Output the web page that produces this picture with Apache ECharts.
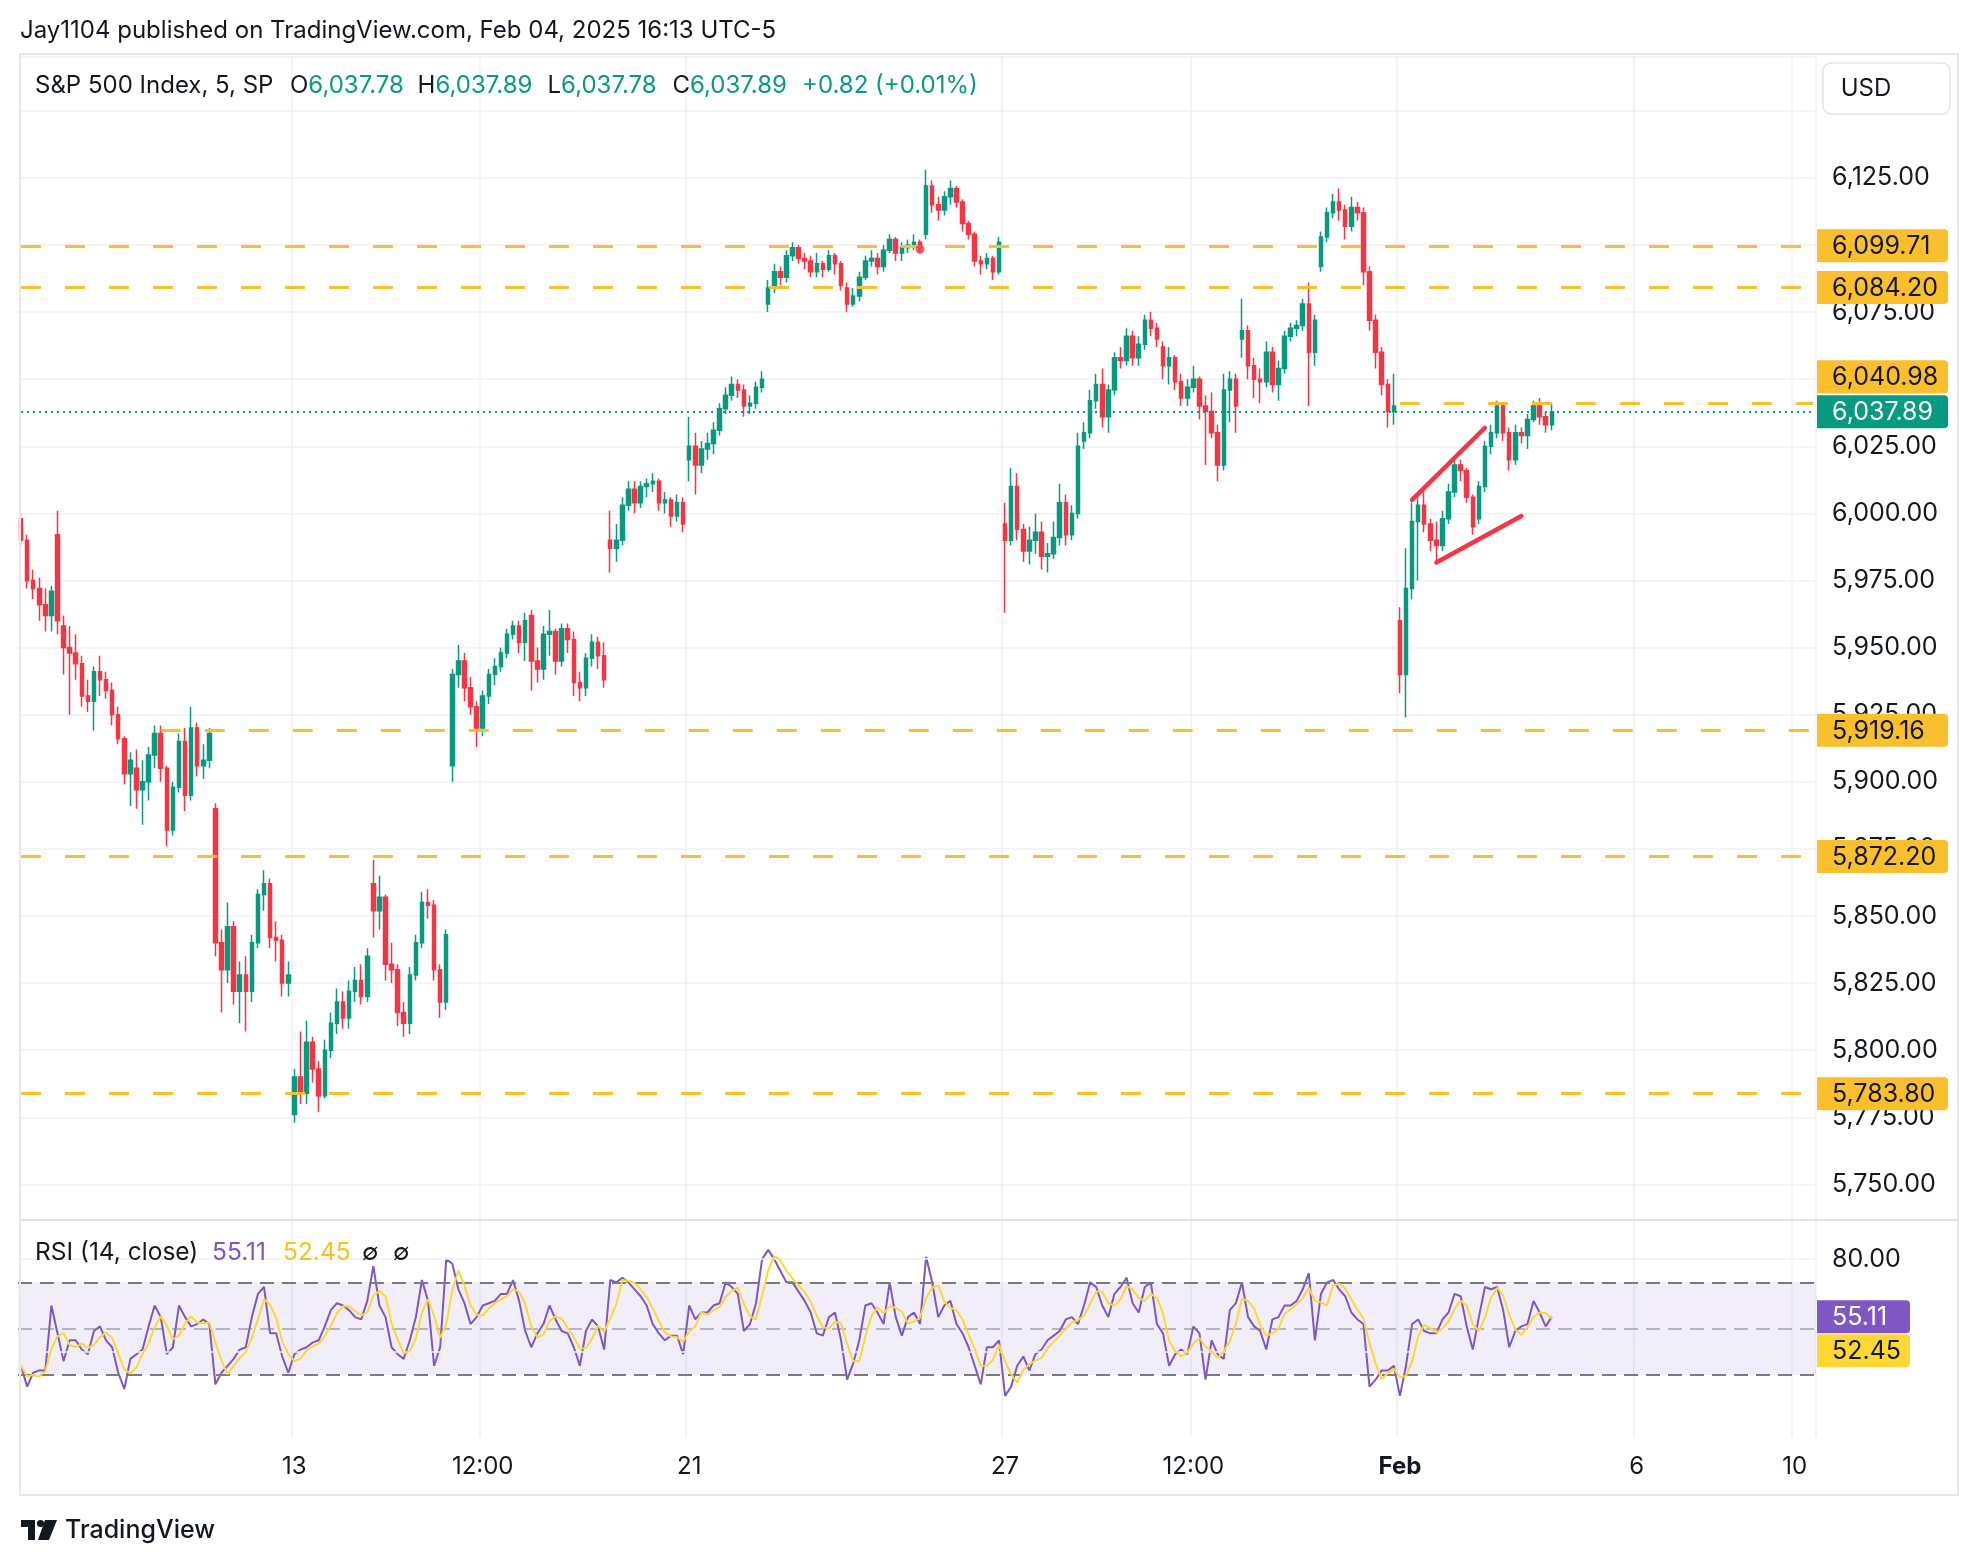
<!DOCTYPE html>
<html><head><meta charset="utf-8">
<script src="https://cdn.jsdelivr.net/npm/echarts/dist/echarts.min.js"></script>
<style>html,body{margin:0;padding:0;background:#fff}#c{width:1978px;height:1564px}</style>
</head><body><div id="c"></div>
<script>
// ---------- DATA (30-minute aggregation) [open, close, low, high] ----------
const jan06 = [[5998,5990,5988,6000],[5990,5975,5972,5992],[5975,5972,5968,5979],[5972,5966,5960,5976],[5966,5962,5956,5972],[5962,5971,5956,5973]];
const jan07 = [[5992,5960,5955,6001],[5958,5950,5940,5962],[5950,5948,5925,5958],[5948,5944,5938,5955],[5944,5932,5928,5947],[5932,5930,5926,5938],[5930,5941,5919,5943],[5941,5938,5932,5947],[5938,5934,5931,5941],[5934,5925,5921,5937],[5925,5916,5914,5928],[5916,5903,5899,5917],[5903,5908,5891,5911]];
const jan08 = [[5905,5897,5890,5912],[5897,5900,5884,5908],[5900,5910,5893,5913],[5910,5918,5905,5921],[5918,5905,5900,5921],[5905,5882,5876,5906],[5882,5898,5880,5900],[5898,5915,5896,5918],[5915,5895,5889,5920],[5895,5920,5893,5928],[5920,5906,5902,5922],[5906,5908,5901,5914],[5908,5918,5905,5920]];
const jan10 = [[5890,5840,5835,5892],[5840,5830,5814,5845],[5830,5846,5825,5855],[5846,5822,5817,5848],[5822,5828,5810,5833],[5828,5822,5807,5835],[5822,5840,5818,5843],[5840,5858,5838,5860],[5858,5862,5852,5867],[5862,5842,5838,5864],[5842,5841,5833,5848],[5841,5825,5820,5843],[5825,5828,5820,5833]];
const jan13 = [[5776,5790,5773,5793],[5790,5784,5780,5807],[5784,5803,5780,5811],[5803,5793,5788,5805],[5793,5783,5777,5796],[5783,5800,5782,5804],[5800,5810,5797,5814],[5810,5818,5806,5823],[5818,5812,5808,5822],[5812,5822,5808,5826],[5822,5826,5818,5831],[5826,5820,5817,5832],[5820,5835,5818,5838]];
const jan14 = [[5862,5852,5842,5871],[5852,5857,5845,5865],[5857,5832,5826,5858],[5832,5830,5825,5840],[5830,5814,5809,5832],[5814,5810,5805,5818],[5810,5828,5806,5831],[5828,5840,5826,5843],[5840,5855,5838,5859],[5855,5854,5849,5860],[5854,5830,5826,5856],[5830,5818,5812,5832],[5818,5843,5815,5845]];
const jan15 = [[5906,5940,5900,5942],[5940,5945,5935,5951],[5945,5935,5930,5948],[5935,5928,5925,5939],[5928,5920,5913,5930],[5920,5932,5917,5934],[5932,5940,5929,5942],[5940,5943,5936,5946],[5943,5948,5941,5950],[5948,5955,5946,5957],[5955,5958,5953,5960],[5958,5952,5948,5960],[5952,5960,5945,5963]];
const jan16 = [[5962,5945,5934,5964],[5945,5942,5937,5950],[5942,5955,5938,5958],[5955,5956,5947,5964],[5956,5945,5940,5957],[5945,5957,5943,5959],[5957,5953,5948,5959],[5953,5937,5932,5956],[5937,5935,5930,5941],[5935,5946,5932,5948],[5946,5952,5943,5955],[5952,5947,5942,5954],[5947,5938,5935,5952]];
const jan17 = [[5990,5987,5978,6001],[5987,5990,5982,5996],[5990,6003,5988,6006],[6003,6009,6001,6012],[6009,6004,6000,6012],[6004,6010,6002,6012],[6010,6011,6006,6013],[6011,6012,6008,6015],[6012,6004,6001,6013],[6004,6005,6000,6008],[6005,5999,5995,6006],[5999,6004,5997,6007],[6004,5996,5993,6006]];
const jan21 = [[6020,6025,6012,6036],[6025,6018,6007,6030],[6018,6024,6015,6027],[6024,6026,6020,6030],[6026,6031,6022,6034],[6031,6039,6029,6041],[6039,6044,6037,6047],[6044,6048,6042,6051],[6048,6046,6043,6050],[6046,6040,6036,6048],[6040,6041,6037,6044],[6041,6047,6039,6049],[6047,6050,6045,6053]];
const jan22 = [[6078,6084,6075,6087],[6084,6090,6082,6093],[6090,6088,6085,6092],[6088,6096,6086,6098],[6096,6099,6094,6101],[6099,6095,6093,6100],[6095,6094,6091,6097],[6094,6090,6088,6096],[6090,6093,6088,6097],[6093,6091,6088,6094],[6091,6096,6090,6098],[6096,6093,6089,6097],[6093,6085,6083,6094]];
const jan23 = [[6084,6078,6075,6086],[6078,6081,6077,6084],[6081,6088,6079,6090],[6088,6094,6087,6096],[6094,6095,6092,6098],[6095,6092,6089,6097],[6092,6098,6090,6100],[6098,6102,6097,6104],[6102,6097,6094,6103],[6097,6099,6094,6101],[6099,6100,6097,6102],[6100,6101,6098,6104],[6101,6099,6097,6102]];
const jan24 = [[6104,6122,6102,6128],[6122,6115,6112,6124],[6115,6113,6109,6118],[6113,6118,6111,6120],[6118,6121,6115,6124],[6121,6116,6114,6122],[6116,6108,6105,6117],[6108,6104,6102,6109],[6104,6094,6092,6105],[6094,6093,6089,6096],[6093,6095,6091,6097],[6095,6090,6087,6096],[6090,6101,6089,6103]];
const jan27 = [[5996,5990,5963,6004],[5990,6010,5988,6017],[6010,5994,5990,6015],[5994,5986,5982,5996],[5986,5990,5981,5995],[5990,5993,5985,6000],[5993,5984,5979,5997],[5984,5985,5978,5989],[5985,5991,5983,5997],[5991,6004,5988,6011],[6004,5992,5988,6007],[5992,6000,5990,6003],[6000,6025,5998,6030]];
const jan28 = [[6027,6030,6024,6034],[6030,6042,6028,6046],[6042,6048,6039,6052],[6048,6036,6032,6054],[6036,6046,6030,6048],[6046,6058,6044,6060],[6058,6057,6054,6062],[6057,6066,6055,6069],[6066,6058,6055,6068],[6058,6063,6055,6066],[6063,6072,6061,6074],[6072,6069,6066,6075],[6069,6065,6062,6071]];
const jan29 = [[6062,6055,6050,6064],[6055,6058,6048,6062],[6058,6049,6046,6059],[6049,6043,6040,6052],[6043,6047,6040,6050],[6047,6050,6045,6055],[6050,6040,6035,6051],[6040,6038,6018,6044],[6038,6030,6028,6045],[6030,6018,6012,6033],[6018,6046,6016,6052],[6046,6050,6034,6053],[6050,6040,6030,6052]];
const jan30 = [[6065,6068,6058,6080],[6068,6055,6050,6070],[6055,6050,6043,6058],[6050,6049,6041,6054],[6049,6060,6047,6064],[6060,6048,6045,6062],[6048,6054,6042,6057],[6054,6066,6052,6068],[6066,6069,6064,6071],[6069,6070,6066,6072],[6070,6078,6068,6080],[6078,6060,6040,6086],[6060,6072,6055,6074]];
const jan31 = [[6092,6103,6090,6105],[6103,6112,6101,6114],[6112,6116,6110,6119],[6116,6113,6109,6121],[6113,6107,6102,6115],[6107,6114,6105,6118],[6114,6112,6109,6116],[6112,6090,6085,6114],[6090,6072,6068,6092],[6072,6060,6054,6074],[6060,6048,6044,6062],[6048,6038,6032,6050],[6038,6040,6033,6052]];
const feb03 = [[5960,5940,5933,5965],[5940,5972,5924,5987],[5972,5997,5968,6004],[5997,6003,5975,6007],[6003,5996,5993,6009],[5996,5990,5986,5998],[5990,5988,5982,5997],[5988,5998,5986,6001],[5998,6008,5996,6011],[6008,6018,6006,6021],[6018,6016,6012,6020],[6016,6006,6004,6017],[6006,5995,5992,6007]];
const feb04 = [[5998,6010,5996,6012],[6010,6025,6008,6027],[6025,6030,6022,6033],[6030,6040,6028,6042],[6040,6030,6027,6041],[6030,6020,6016,6032],[6020,6030,6018,6033],[6030,6029,6026,6032],[6029,6035,6024,6037],[6035,6040,6034,6042],[6040,6036,6033,6043],[6036,6033,6030,6038],[6033,6037.89,6031,6041]];

const tradingDays = ['2025-01-06','2025-01-07','2025-01-08','2025-01-10','2025-01-13','2025-01-14','2025-01-15','2025-01-16','2025-01-17','2025-01-21','2025-01-22','2025-01-23','2025-01-24','2025-01-27','2025-01-28','2025-01-29','2025-01-30','2025-01-31','2025-02-03','2025-02-04'];
const futureDays = ['2025-02-05','2025-02-06','2025-02-07','2025-02-10'];

// RSI(14) values read per 30-min slot
const rsiValues = [34,25,31,32,32,60,48,36,45,45, 41,39,49,51,45,42,31,24,37,39, 41,51,60,55,39,42,60,55,51,52,
 54,52,26,31,34,37,41,42,55,65, 68,48,48,38,31,39,41,42,44,45, 51,58,61,60,58,55,54,62,77,60,
 55,42,39,37,45,55,71,62,34,42, 80,78,67,61,52,55,60,61,62,65, 65,71,62,49,42,48,52,60,54,49,
 48,42,34,49,54,51,41,71,70,72, 70,67,64,60,52,48,45,47,47,39, 60,54,57,57,60,61,70,68,65,49,
 52,61,80,84,80,75,70,70,66,62, 57,48,47,55,57,45,28,35,45,60, 61,57,52,70,55,47,55,57,52,81,
 70,55,60,62,52,48,42,34,26,42, 42,45,21,25,34,38,32,39,41,45, 47,49,54,55,52,60,70,68,60,55,
 65,68,72,61,57,68,70,52,48,34, 39,41,39,51,48,28,45,39,37,58, 61,70,55,51,49,41,54,55,60,60,
 62,67,74,45,65,70,71,67,64,57, 54,52,25,28,32,32,34,21,34,52, 54,49,48,48,54,57,65,64,51,41,
 55,68,67,68,58,42,49,51,52,62, 57,51,55.11];
const rsiLast = '55.11';
const rsiMaLast = '52.45';

// horizontal levels drawn on the chart
const levelValues = [6099.71, 6084.20, 6040.98, 5919.16, 5872.20, 5783.80];
const levelStartIdx = [0, 0, 227, 23, 0, 0];
const lastPrice = 6037.89;
// wedge trend lines [barIndex, price]
const wedgeUpper = [[229.05, 6005.0], [241.3, 6031.9]];
const wedgeLower = [[233.0, 5981.7], [246.6, 5999.0]];
const redDot = [[148.3, 6098.4]];

const xTickLabels = [['2025-01-13 09:30','13'],['2025-01-15 12:00','12:00'],['2025-01-21 09:30','21'],['2025-01-27 09:30','27'],['2025-01-29 12:00','12:00'],['2025-02-03 09:30','Feb'],['2025-02-06 09:30','6'],['2025-02-10 09:30','10']];
const priceTicks = {min: 5750, max: 6170, step: 25};
const legendOHLC = [['O','6,037.78'],['H','6,037.89'],['L','6,037.78'],['C','6,037.89']];
const legendChange = '+0.82 (+0.01%)';

// ---------- BUILD ----------
const priceDays = [jan06,jan07,jan08,jan10,jan13,jan14,jan15,jan16,jan17,jan21,jan22,jan23,jan24,jan27,jan28,jan29,jan30,jan31,feb03,feb04];
function slotTimes(date, startSlot, count){
  const out=[]; for(let i=0;i<count;i++){const m=570+(startSlot+i)*30; out.push(date+' '+String(Math.floor(m/60)).padStart(2,'0')+':'+String(m%60).padStart(2,'0'));} return out;
}
const categories=[]; const ohlc=[];
priceDays.forEach((d,i)=>{ const start = 13 - d.length; categories.push(...slotTimes(tradingDays[i], start, d.length)); ohlc.push(...d); });
const TOTAL = 296;
futureDays.forEach(d=>{ const n=Math.min(13, TOTAL-categories.length); if(n>0) categories.push(...slotTimes(d,0,n)); });
const LAST = categories.length-1;
const tickMap = {}; xTickLabels.forEach(([k,v])=>tickMap[k]=v);
const rsiMa = rsiValues.map((v,i)=>{ const s=rsiValues.slice(Math.max(0,i-2),i+1); return +(s.reduce((a,b)=>a+b,0)/s.length).toFixed(2); });

const FONT = 'Inter, "Noto Sans", Roboto, sans-serif';
const TXT = '#131722', UP='#089981', DOWN='#f23645', GRID='#eef0f4', YEL='#f9bf2c', PURP='#7e57c2', MAY='#fdd835';
const fmt = v => v.toLocaleString('en-US',{minimumFractionDigits:2, maximumFractionDigits:2});
const AXF = 25;

const L=18, R=162;
const chart = echarts.init(document.getElementById('c'), null, {renderer:'canvas'});
const levelLines = levelValues.map((v,i)=>[
  {coord:[levelStartIdx[i], v], lineStyle:{color:YEL, width:3, type:[20,24]}},
  {coord:[LAST, v]}
]);
const option = {
  animation:false,
  textStyle:{fontFamily:FONT},
  grid:[
    {left:L, right:R, top:57.1, height:1127.3},
    {left:L, right:R, top:1224.4, height:208.6},
    {left:L, right:R, top:54, height:1383}
  ],
  xAxis:[
    {type:'category', gridIndex:0, data:categories, boundaryGap:true, axisLine:{show:false}, axisTick:{show:false}, axisLabel:{show:false}, splitLine:{show:false}},
    {type:'category', gridIndex:1, data:categories, boundaryGap:true, axisLine:{show:false}, axisTick:{show:false}, splitLine:{show:false},
      axisLabel:{show:true, interval:(idx,val)=>tickMap[val]!==undefined, formatter:(val)=>tickMap[val]==='Feb'?'{b|Feb}':(tickMap[val]||''),
        color:TXT, fontSize:24, fontFamily:FONT, margin:22, rich:{b:{fontWeight:'bold', fontSize:24, color:TXT, fontFamily:FONT}}}},
    {type:'category', gridIndex:2, data:categories, boundaryGap:true, axisLine:{show:false}, axisTick:{show:false}, axisLabel:{show:false},
      splitLine:{show:true, interval:(idx,val)=>tickMap[val]!==undefined, lineStyle:{color:GRID, width:1.5}}}
  ],
  yAxis:[
    {type:'value', gridIndex:0, position:'right', min:priceTicks.min, max:priceTicks.max, interval:priceTicks.step,
      axisLine:{show:false}, axisTick:{show:false},
      axisLabel:{color:TXT, fontSize:AXF, fontFamily:FONT, margin:16, formatter:v=>(v%25===0 && v<=6125)?fmt(v):''},
      splitLine:{show:true, lineStyle:{color:GRID, width:1.5}}},
    {type:'value', gridIndex:1, position:'right', min:5, max:95, interval:5,
      axisLine:{show:false}, axisTick:{show:false}, splitLine:{show:false},
      axisLabel:{color:TXT, fontSize:AXF, fontFamily:FONT, margin:16, formatter:v=>v===80?'80.00':''}},
    {type:'value', gridIndex:2, show:false, min:0, max:1}
  ],
  series:[
    {type:'candlestick', xAxisIndex:0, yAxisIndex:0, data:ohlc, barWidth:4,
      itemStyle:{color:UP, color0:DOWN, borderColor:UP, borderColor0:DOWN, borderWidth:1.5},
      markLine:{silent:true, symbol:['none','none'], label:{show:false}, animation:false,
        data:[
          ...levelLines,
          [{coord:[0,lastPrice], lineStyle:{color:UP, width:2, type:[2,4]}}, {coord:[LAST,lastPrice]}],
          [{coord:wedgeUpper[0], lineStyle:{color:DOWN, width:4.5, type:'solid', cap:'round'}}, {coord:wedgeUpper[1]}],
          [{coord:wedgeLower[0], lineStyle:{color:DOWN, width:4.5, type:'solid', cap:'round'}}, {coord:wedgeLower[1]}]
        ]}
    },
    {type:'scatter', xAxisIndex:0, yAxisIndex:0, data:redDot, symbolSize:9, itemStyle:{color:DOWN}, silent:true, z:5},
    {type:'line', xAxisIndex:1, yAxisIndex:1, data:rsiValues, showSymbol:false, lineStyle:{color:PURP, width:2}, z:4,
      markArea:{silent:true, itemStyle:{color:'rgba(126,87,194,0.1)'}, data:[[{yAxis:30},{yAxis:70}]]},
      markLine:{silent:true, symbol:['none','none'], label:{show:false},
        data:[
          {yAxis:80, lineStyle:{color:GRID, width:1.5, type:'solid'}},
          {yAxis:40, lineStyle:{color:GRID, width:1.5, type:'solid'}},
          {yAxis:70, lineStyle:{color:'#787b86', width:2, type:[14,8]}},
          {yAxis:50, lineStyle:{color:'rgba(120,123,134,0.5)', width:2, type:[14,8]}},
          {yAxis:30, lineStyle:{color:'#787b86', width:2, type:[14,8]}}
        ]}
    },
    {type:'line', xAxisIndex:1, yAxisIndex:1, data:rsiMa, showSymbol:false, lineStyle:{color:MAY, width:2}, z:5}
  ]
};
chart.setOption(option);

// ---------- price boxes & texts ----------
const yP = v => chart.convertToPixel({yAxisIndex:0}, v);
const yR = v => chart.convertToPixel({yAxisIndex:1}, v);
function box(yc, text, bg, fg, w){
  return [
    {type:'rect', z:100, shape:{x:1817, y:yc-16.5, width:w||131, height:33, r:[0,4,4,0]}, style:{fill:bg}},
    {type:'text', z:101, x:1832, y:yc+1, style:{text:text, fill:fg, font:AXF+'px '+FONT, textVerticalAlign:'middle', verticalAlign:'middle'}}
  ];
}
const g = [];
const curY = yP(lastPrice);
levelValues.forEach(v=>{
  let yc = yP(v);
  if (Math.abs(yc-curY) < 34) yc = curY - 35;
  g.push(...box(yc, fmt(v), YEL, '#131722'));
});
g.push(...box(curY, fmt(lastPrice), UP, '#ffffff'));
const rY = yR(+rsiLast);
g.push(...box(rY, rsiLast, PURP, '#ffffff', 93));
g.push(...box(rY+34, rsiMaLast, MAY, '#131722', 93));
// borders
g.push({type:'rect', z:90, shape:{x:20, y:54, width:1938, height:1441}, style:{fill:null, stroke:'#e6e8ec', lineWidth:2}});
g.push({type:'line', z:90, shape:{x1:20, y1:1220, x2:1958, y2:1220}, style:{stroke:'#e0e3eb', lineWidth:2}});
// USD box
g.push({type:'rect', z:100, shape:{x:1823, y:63, width:127, height:51, r:8}, style:{fill:'#fff', stroke:'#e0e3eb', lineWidth:1.5}});
g.push({type:'text', z:101, x:1866, y:89, style:{text:'USD', fill:TXT, font:'24px '+FONT, textAlign:'center', align:'center', textVerticalAlign:'middle', verticalAlign:'middle'}});
// header
function t(x,y,text,fill,size,weight){ return {type:'text', z:100, x:x, y:y, style:{text:text, fill:fill, font:(weight||'normal')+' '+(size||24)+'px '+FONT, textVerticalAlign:'middle', verticalAlign:'middle'}}; }
g.push(t(20,31,'Jay1104 published on TradingView.com, Feb 04, 2025 16:13 UTC-5',TXT,24));
g.push(t(35,86,'S&P 500 Index, 5, SP',TXT,24));
const legendX = [290, 417.6, 547.5, 672.4];
legendOHLC.forEach(([k,v],i)=>{
  g.push({type:'text', z:100, x:legendX[i], y:86, style:{text:'{k|'+k+'}{v|'+v+'}', verticalAlign:'middle', textVerticalAlign:'middle',
    rich:{k:{fill:TXT, fontSize:24, fontFamily:FONT}, v:{fill:UP, fontSize:24, fontFamily:FONT}}}});
});
g.push(t(802,86,legendChange,UP,24));
// RSI legend
g.push(t(35,1253,'RSI (14, close)',TXT,24.5));
g.push(t(212,1253,rsiLast,PURP,24.5));
g.push(t(283,1253,rsiMaLast,'#f7c21b',24.5));
g.push(t(362,1253,'∅',TXT,24));
g.push(t(393,1253,'∅',TXT,24));
// TradingView logo
g.push({type:'rect', z:100, shape:{x:21, y:1520, width:14, height:7}, style:{fill:'#131722'}});
g.push({type:'rect', z:100, shape:{x:28, y:1520, width:7, height:20}, style:{fill:'#131722'}});
g.push({type:'circle', z:100, shape:{cx:40.5, cy:1523.5, r:3.6}, style:{fill:'#131722'}});
g.push({type:'polygon', z:100, shape:{points:[[45,1520],[57,1520],[49,1540],[38,1540]]}, style:{fill:'#131722'}});
g.push(t(65,1530,'TradingView',TXT,25,'500'));
chart.setOption({graphic:{elements:g}});
</script>
</body></html>
